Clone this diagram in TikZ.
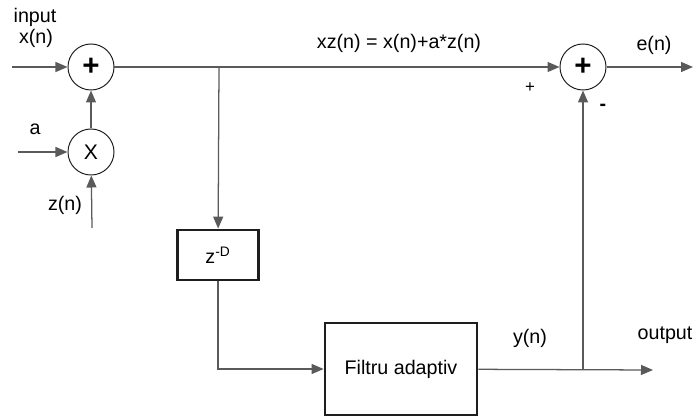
\documentclass[tikz,border=0pt]{standalone}
\usepackage{fontspec}
\setmainfont{Liberation Sans}
\usetikzlibrary{arrows.meta, positioning}
\definecolor{cline}{HTML}{5A5A5A}
\definecolor{cedge}{HTML}{1E1E1E}
\tikzset{
  every picture/.style={font=\fontsize{14}{16}\selectfont, line width=0.9pt},
  junct/.style={circle, draw=cedge, line width=0.7pt, minimum size=1.15cm, inner sep=0pt},
  plus/.style={font=\fontsize{21}{22}\selectfont\bfseries},
  block/.style={draw=cedge, line width=2pt, align=center, inner sep=2pt},
  sig/.style={-{Triangle[length=3mm, width=2.5mm]}, draw=cline, line width=0.9pt},
  lbl/.style={inner sep=1pt, text=black},
}
\begin{document}
\begin{tikzpicture}[x=0.025cm, y=-0.025cm]
  \useasboundingbox (0,0) rectangle (697,419);
  % summers and multiplier
  \node[junct, plus] (sumin) at (91,67) {+};
  \node[junct] (mul) at (91,152) {\fontsize{15}{16}\selectfont X};
  \node[junct, plus] (sumout) at (583,67) {+};
  % blocks
  \node[block, minimum width=2.03cm, minimum height=1.25cm] (delay) at (218,255) {z\textsuperscript{-D}};
  \node[block, minimum width=3.8cm, minimum height=2.3cm] (filt) at (401,369) {Filtru adaptiv};
  % free ends and bends
  \coordinate (inx) at (12,67);
  \coordinate (ina) at (18,152);
  \coordinate (inz) at (92,228);
  \coordinate (tap) at (219,67);
  \coordinate (split) at (583,370);
  \coordinate (outy) at (653,370);
  \coordinate (oute) at (693,67);
  % labels
  \node[lbl] (linput) at (35,17) {input};
  \node[lbl] (lx) at (36,38) {x(n)};
  \node[lbl] (la) at (35,129) {a};
  \node[lbl] (lz) at (65,205) {z(n)};
  \node[lbl] (lxz) at (399,43) {xz(n) = x(n)+a*z(n)};
  \node[lbl] (lplus) at (530,88) {\fontsize{12}{13}\selectfont +};
  \node[lbl] (lminus) at (603,107) {\textbf{-}};
  \node[lbl] (le) at (654,45) {e(n)};
  \node[lbl] (ly) at (530,338) {y(n)};
  \node[lbl] (lout) at (665,335) {output};
  % connections
  \draw[sig] (inx) -- (sumin);
  \draw[sig] (ina) -- (mul);
  \draw[sig] (inz) -- (mul);
  \draw[sig] (mul) -- (sumin);
  \draw[sig] (sumin) -- (sumout);
  \draw[sig] (tap) -- (delay);
  \draw[sig] (delay) |- (filt);
  \draw[sig] (filt) -- (outy);
  \draw[sig] (split) -- (sumout);
  \draw[sig] (sumout) -- (oute);
\end{tikzpicture}
\end{document}
